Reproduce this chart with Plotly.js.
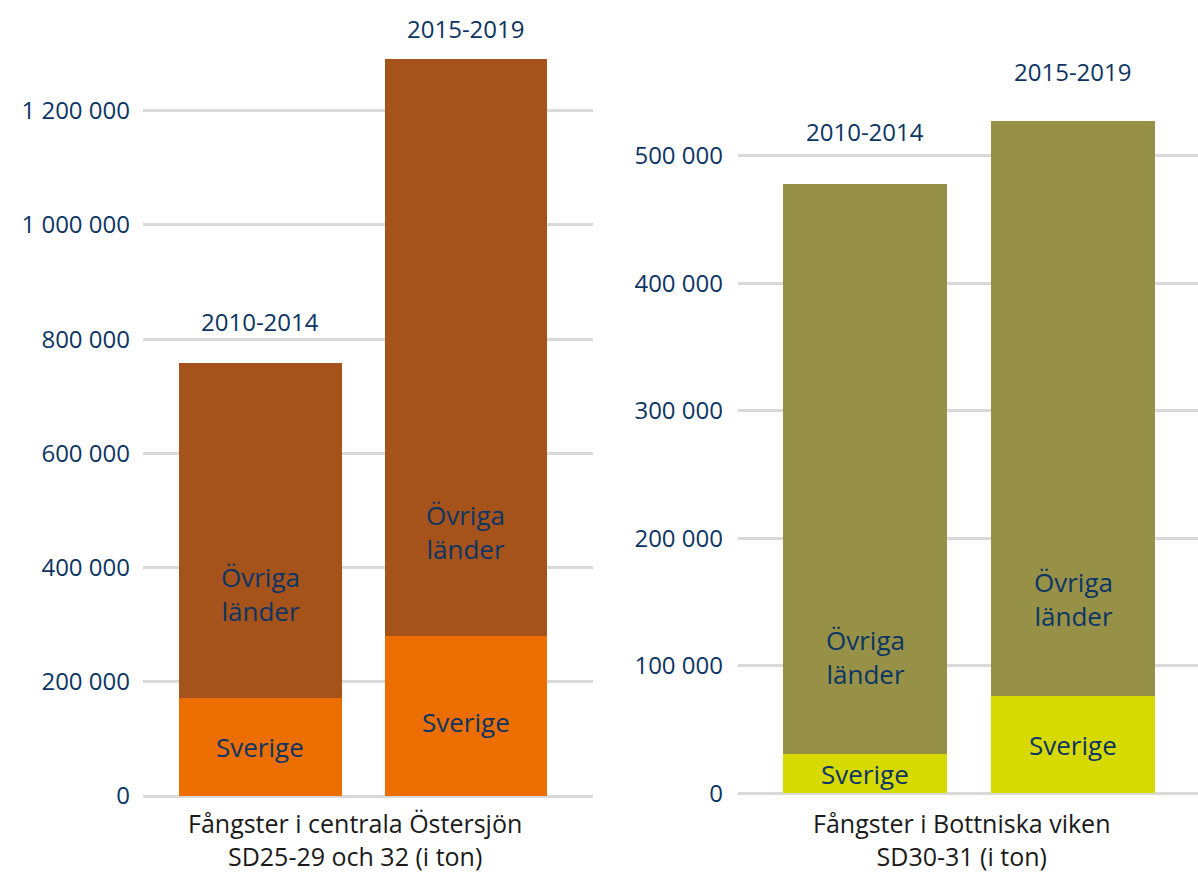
<!DOCTYPE html>
<html>
<head>
<meta charset="utf-8">
<script src="https://cdn.plot.ly/plotly-3.0.1.min.js"></script>
<style>html,body{margin:0;padding:0;background:#fff;}#chart{width:1198px;height:877px;}</style>
</head>
<body>
<div id="chart"></div>
<script>
// Data
const periods = ["2010-2014", "2015-2019"];
const centralSverige = [171000, 280000];
const centralOvriga = [587000, 1010000];
const bottnSverige = [31000, 76000];
const bottnOvriga = [447000, 451000];
const centralTitle = "Fångster i centrala Östersjön<br>SD25-29 och 32 (i ton)";
const bottnTitle = "Fångster i Bottniska viken<br>SD30-31 (i ton)";
const sverigeLabel = "Sverige";
const ovrigaLabel = "Övriga<br>länder";

const navy = "#0d3563";
const FONT = "'Open Sans', Lato, sans-serif";
const FS_NUM = 24;
const FS_TXT = 26;
const WEIGHT = 500;

const traces = [
  {type: "bar", x: periods, y: centralSverige, xaxis: "x", yaxis: "y", width: 0.79,
   marker: {color: "#EC6E00", line: {width: 0}}, hoverinfo: "y", name: sverigeLabel},
  {type: "bar", x: periods, y: centralOvriga, xaxis: "x", yaxis: "y", width: 0.79,
   marker: {color: "#A5521B", line: {width: 0}}, hoverinfo: "y", name: "Övriga länder"},
  {type: "bar", x: periods, y: bottnSverige, xaxis: "x2", yaxis: "y2", width: 0.79,
   marker: {color: "#D7DA00", line: {width: 0}}, hoverinfo: "y", name: sverigeLabel},
  {type: "bar", x: periods, y: bottnOvriga, xaxis: "x2", yaxis: "y2", width: 0.79,
   marker: {color: "#969147", line: {width: 0}}, hoverinfo: "y", name: "Övriga länder"}
];

const annotations = [];
function addPanel(xr, yr, sv, ov, topShift, ovShift, svShift) {
  periods.forEach((p, i) => {
    const total = sv[i] + ov[i];
    annotations.push({xref: xr, yref: yr, x: p, y: total, text: p, showarrow: false,
      xanchor: "center", yanchor: "middle", yshift: topShift[i],
      font: {family: FONT, size: FS_NUM, color: navy, weight: WEIGHT}});
    annotations.push({xref: xr, yref: yr, x: p, y: sv[i] / 2, text: sverigeLabel, showarrow: false,
      xanchor: "center", yanchor: "middle", yshift: svShift[i],
      font: {family: FONT, size: FS_TXT, color: navy, weight: WEIGHT}});
    annotations.push({xref: xr, yref: yr, x: p, y: sv[i], text: ovrigaLabel, showarrow: false,
      xanchor: "center", yanchor: "middle", yshift: ovShift,
      font: {family: FONT, size: FS_TXT, color: navy, weight: WEIGHT}});
  });
}
addPanel("x", "y", centralSverige, centralOvriga, [42, 31], 104, [0, -6]);
addPanel("x2", "y2", bottnSverige, bottnOvriga, [52, 50], 97, [0, 0]);

function addTitle(text, cx) {
  annotations.push({xref: "paper", yref: "paper", x: cx / 1198, y: 2 / 877,
    xanchor: "center", yanchor: "bottom", text: text, showarrow: false,
    font: {family: FONT, size: 25, color: "#1a1a1a", weight: WEIGHT}});
}
addTitle(centralTitle, 355);
addTitle(bottnTitle, 961);

const yCommon = {
  showline: false, ticks: "", tickformat: ",d", gridcolor: "#d9d9d9", gridwidth: 3,
  zeroline: true, zerolinecolor: "#d9d9d9", zerolinewidth: 3, fixedrange: true,
  tickfont: {family: FONT, size: 24, color: navy, weight: WEIGHT}
};

const layout = {
  width: 1198, height: 877,
  margin: {l: 0, r: 0, t: 0, b: 0},
  paper_bgcolor: "#fff", plot_bgcolor: "#fff",
  separators: ", ",
  showlegend: false,
  barmode: "stack",
  xaxis: {domain: [143 / 1198, 593 / 1198], range: [-0.572, 1.62], showticklabels: false,
          showgrid: false, zeroline: false, showline: false, ticks: "", fixedrange: true},
  xaxis2: {domain: [738 / 1198, 1], range: [-0.611, 1.6], showticklabels: false,
          showgrid: false, zeroline: false, showline: false, ticks: "", fixedrange: true, anchor: "y2"},
  yaxis: Object.assign({}, yCommon, {domain: [0.09236, 0.93888], range: [0, 1300000], dtick: 200000,
          anchor: "x", ticklabelstandoff: 12}),
  yaxis2: Object.assign({}, yCommon, {domain: [0.09544, 0.90958], range: [0, 560000], dtick: 100000,
          anchor: "x2", ticklabelstandoff: 14}),
  annotations: annotations
};

Plotly.newPlot("chart", traces, layout, {displayModeBar: false, staticPlot: true});
</script>
</body>
</html>
